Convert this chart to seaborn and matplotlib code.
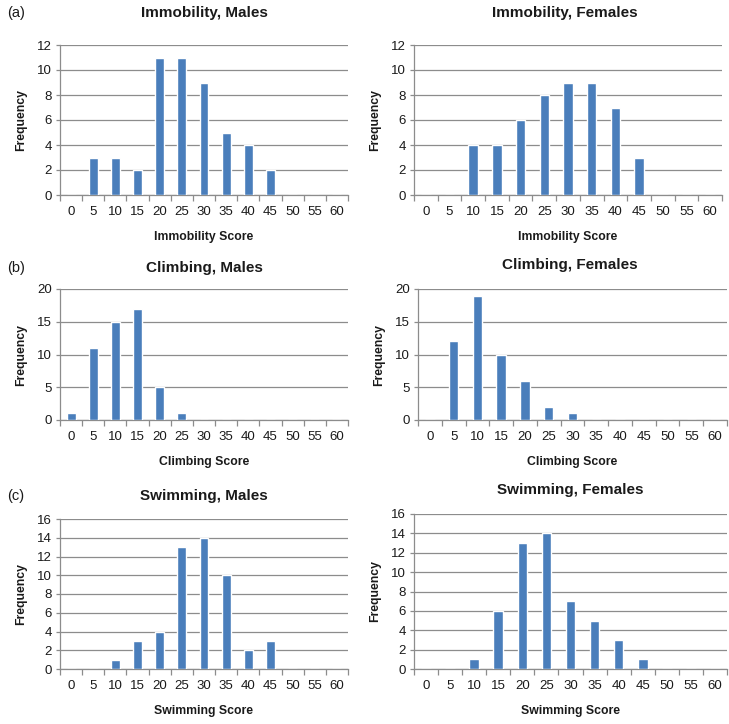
import matplotlib
matplotlib.use("Agg")
import matplotlib.pyplot as plt
import seaborn as sns
import pandas as pd
import numpy as np

sns.set_theme(style="white")
plt.rcParams['font.family'] = ['Liberation Sans', 'DejaVu Sans']

scores = ["0", "5", "10", "15", "20", "25", "30", "35", "40", "45", "50", "55", "60"]

immobility_males = [0, 3, 3, 2, 11, 11, 9, 5, 4, 2, 0, 0, 0]
immobility_females = [0, 0, 4, 4, 6, 8, 9, 9, 7, 3, 0, 0, 0]
climbing_males = [1, 11, 15, 17, 5, 1, 0, 0, 0, 0, 0, 0, 0]
climbing_females = [0, 12, 19, 10, 6, 2, 1, 0, 0, 0, 0, 0, 0]
swimming_males = [0, 0, 1, 3, 4, 13, 14, 10, 2, 3, 0, 0, 0]
swimming_females = [0, 0, 1, 6, 13, 14, 7, 5, 3, 1, 0, 0, 0]

panels = [
    # values, title, xlabel, ymax, ystep, rect(px: left, top, right, bottom), title_px(x,y), xlabel_y
    (immobility_males, "Immobility, Males", "Immobility Score", 12, 2, (60, 45, 348, 195), (204, 13), 237),
    (immobility_females, "Immobility, Females", "Immobility Score", 12, 2, (414, 45, 722, 195), (565, 13), 237),
    (climbing_males, "Climbing, Males", "Climbing Score", 20, 5, (60, 289, 348, 420), (204, 268), 462),
    (climbing_females, "Climbing, Females", "Climbing Score", 20, 5, (418, 289, 727, 420), (570, 265), 462),
    (swimming_males, "Swimming, Males", "Swimming Score", 16, 2, (60, 519, 348, 669), (204, 496), 711),
    (swimming_females, "Swimming, Females", "Swimming Score", 16, 2, (414, 514, 727, 669), (570, 490), 711),
]

W, H = 729, 724
fig = plt.figure(figsize=(W / 100, H / 100), dpi=100)

bar_color = "#4a7ebb"
grid_color = "#8c8c8c"
text_color = "#1a1a1a"

for vals, title, xlabel, ymax, ystep, (l, t, r, b), (tx, ty), xly in panels:
    ax = fig.add_axes([l / W, 1 - b / H, (r - l) / W, (b - t) / H])
    df = pd.DataFrame({"score": scores, "freq": vals})
    sns.barplot(data=df, x="score", y="freq", order=scores, color=bar_color,
                width=0.4, saturation=1, ax=ax, zorder=3)
    ax.set_xlim(-0.5, len(scores) - 0.5)
    ax.set_ylim(0, ymax)
    ax.set_yticks(np.arange(0, ymax + 0.1, ystep))
    ax.yaxis.grid(True, color=grid_color, linewidth=0.9, zorder=0)
    ax.set_axisbelow(True)
    for s in ["top", "right"]:
        ax.spines[s].set_visible(False)
    for s in ["left", "bottom"]:
        ax.spines[s].set_color(grid_color)
        ax.spines[s].set_linewidth(0.9)
    # category boundary ticks
    ax.set_xticks(np.arange(-0.5, len(scores), 1.0), minor=True)
    ax.tick_params(axis="x", which="minor", length=4, color=grid_color, width=0.9, bottom=True)
    ax.tick_params(axis="x", which="major", length=0, pad=8, labelsize=9.5, labelcolor=text_color)
    ax.tick_params(axis="y", which="major", length=3, color=grid_color, width=0.9, left=True,
                   pad=3, labelsize=9.5, labelcolor=text_color)
    ax.set_xlabel("")
    ax.set_ylabel("Frequency", fontsize=8.8, fontweight="bold", color=text_color, labelpad=7)
    fig.text((l + r) / 2 / W, 1 - xly / H, xlabel, ha="center", va="center",
             fontsize=8.8, fontweight="bold", color=text_color)
    fig.text(tx / W, 1 - ty / H, title, ha="center", va="center",
             fontsize=11, fontweight="bold", color=text_color)

for lab, y in [("(a)", 13), ("(b)", 268), ("(c)", 496)]:
    fig.text(7 / W, 1 - y / H, lab, ha="left", va="center", fontsize=10.5, color=text_color)

fig.savefig("out.png", dpi=100)
